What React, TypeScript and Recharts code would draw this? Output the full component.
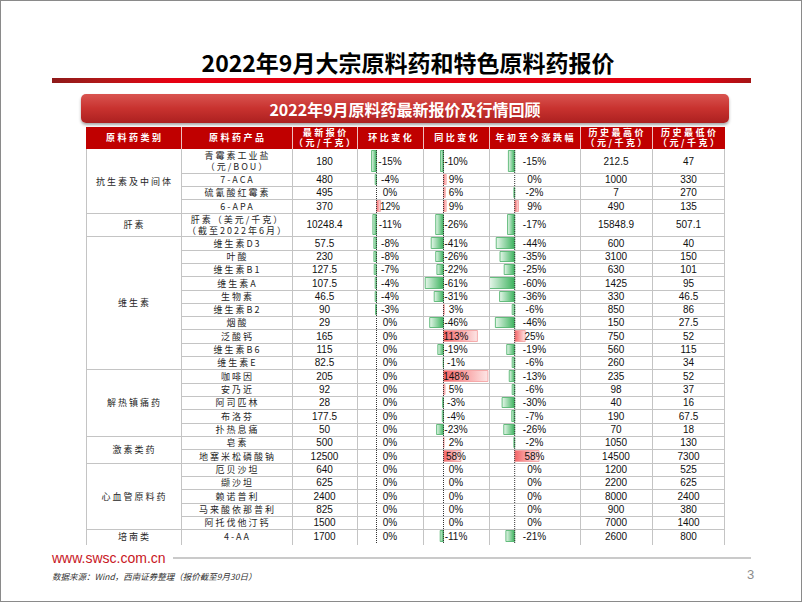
import React from 'react';
import { BarChart, Bar, XAxis, YAxis, ReferenceLine } from 'recharts';

// ---------------- data ----------------
const TITLE = '2022年9月大宗原料药和特色原料药报价';
const SUBTITLE = '2022年9月原料药最新报价及行情回顾';
const HEADERS = [
  '原料药类别',
  '原料药产品',
  '最新报价\n（元/千克）',
  '环比变化',
  '同比变化',
  '年初至今涨跌幅',
  '历史最高价\n（元/千克）',
  '历史最低价\n（元/千克）',
];
const GROUP_NAMES = ['抗生素及中间体', '肝素', '维生素', '解热镇痛药', '激素类药', '心血管原料药', '培南类'];
const GROUP_SIZES = [4, 1, 10, 5, 2, 5, 1];
const PRODUCTS = [
  '青霉素工业盐\n（元/BOU）', '7-ACA', '硫氰酸红霉素', '6-APA',
  '肝素（美元/千克）\n（截至2022年6月）',
  '维生素D3', '叶酸', '维生素B1', '维生素A', '生物素', '维生素B2', '烟酸', '泛酸钙', '维生素B6', '维生素E',
  '咖啡因', '安乃近', '阿司匹林', '布洛芬', '扑热息痛',
  '皂素', '地塞米松磷酸钠',
  '厄贝沙坦', '缬沙坦', '赖诺普利', '马来酸依那普利', '阿托伐他汀钙',
  '4-AA',
];
const LATEST = [180, 480, 495, 370, 10248.4, 57.5, 230, 127.5, 107.5, 46.5, 90, 29, 165, 115, 82.5, 205, 92, 28, 177.5, 50, 500, 12500, 640, 625, 2400, 825, 1500, 1700];
const MOM = [-15, -4, 0, 12, -11, -8, -8, -7, -4, -4, -3, 0, 0, 0, 0, 0, 0, 0, 0, 0, 0, 0, 0, 0, 0, 0, 0, 0];
const YOY = [-10, 9, 6, 9, -26, -41, -26, -22, -61, -31, 3, -46, 113, -19, -1, 148, 5, -3, -4, -23, 2, 58, 0, 0, 0, 0, 0, -11];
const YTD = [-15, 0, -2, 9, -17, -44, -35, -25, -60, -36, -6, -46, 25, -19, -6, -13, -6, -30, -7, -26, -2, 58, 0, 0, 0, 0, 0, -21];
const HIST_HIGH = [212.5, 1000, 7, 490, 15848.9, 600, 3100, 630, 1425, 330, 850, 150, 750, 560, 260, 235, 98, 40, 190, 70, 1050, 14500, 1200, 2200, 8000, 900, 7000, 2600];
const HIST_LOW = [47, 330, 270, 135, 507.1, 40, 150, 101, 95, 46.5, 86, 27.5, 52, 115, 34, 52, 37, 16, 67.5, 18, 130, 7300, 525, 625, 2400, 380, 1400, 800];
const FOOT_URL = 'www.swsc.com.cn';
const FOOT_SOURCE = '数据来源：Wind，西南证券整理（报价截至9月30日）';
const PAGE_NO = '3';

// ---------------- layout ----------------
const COL_X = [85, 180, 291, 356, 422, 488, 579, 651, 724];
const HEAD_TOP = 126;
const BODY_TOP = 148;
const SINGLE = 13.33;
const DOUBLE = 23.6;
const CJK = '"Noto Sans CJK SC", "Noto Sans", sans-serif';
const NUM = '"Liberation Sans", Arial, sans-serif';
const GRID = '#C4C4C4';

const BAR_COLS = [
  { col: 3, values: MOM, axis: 19.5, ppp: 0.33 },
  { col: 4, values: YOY, axis: 20.5, ppp: 0.3 },
  { col: 5, values: YTD, axis: 25.7, ppp: 0.42 },
];

function BarCell({ value, w, h, axis, ppp }: { value: number; w: number; h: number; axis: number; ppp: number }) {
  const data = [{ k: 'r', v: value }];
  const neg = value < 0;
  const domain: [number, number] = [-axis / ppp, (w - axis) / ppp];
  return (
    <BarChart
      width={w}
      height={h}
      data={data}
      layout="vertical"
      margin={{ top: 0, right: 0, bottom: 0, left: 0 }}
      barCategoryGap={1.5}
    >
      <XAxis type="number" domain={domain} hide allowDataOverflow />
      <YAxis type="category" dataKey="k" hide />
      {value !== 0 && (
        <Bar
          dataKey="v"
          isAnimationActive={false}
          fill={neg ? 'url(#gNeg)' : 'url(#gPos)'}
          stroke={neg ? '#45AE63' : '#F49A9B'}
          strokeWidth={0.8}
        />
      )}
      <ReferenceLine x={0} stroke="#333" strokeDasharray="1 1" strokeWidth={1} />
    </BarChart>
  );
}

export default function App() {
  const tops: number[] = [];
  let acc = BODY_TOP;
  PRODUCTS.forEach((p) => {
    tops.push(Math.round(acc));
    acc += p.includes('\n') ? DOUBLE : SINGLE;
  });
  const bodyBottom = Math.round(acc);
  const bottoms = tops.map((t, i) => (i < tops.length - 1 ? tops[i + 1] : bodyBottom));

  // group ranges
  const groups: { name: string; start: number; end: number }[] = [];
  let gi = 0;
  GROUP_NAMES.forEach((n, i) => {
    groups.push({ name: n, start: gi, end: gi + GROUP_SIZES[i] - 1 });
    gi += GROUP_SIZES[i];
  });
  const groupEnds = new Set(groups.map((g) => g.end));

  const cellBox = (c: number, top: number, bottom: number): React.CSSProperties => ({
    position: 'absolute',
    left: COL_X[c],
    width: COL_X[c + 1] - COL_X[c],
    top,
    height: bottom - top,
    display: 'flex',
    alignItems: 'center',
    justifyContent: 'center',
    textAlign: 'center',
  });

  const cjkText: React.CSSProperties = {
    fontFamily: CJK,
    fontSize: 9,
    letterSpacing: 2,
    paddingLeft: 2,
    color: '#262626',
    lineHeight: '11px',
    whiteSpace: 'pre',
  };
  const numText: React.CSSProperties = {
    fontFamily: NUM,
    fontSize: 10,
    color: '#111',
    lineHeight: '11px',
    whiteSpace: 'pre',
    position: 'relative',
  };

  const lines: React.ReactNode[] = [];
  // header separators
  for (let c = 1; c < 8; c++) {
    lines.push(
      <div key={'hs' + c} style={{ position: 'absolute', left: COL_X[c], top: HEAD_TOP, width: 1, height: BODY_TOP - HEAD_TOP, background: 'rgba(255,255,255,0.75)' }} />
    );
  }
  // vertical grid
  COL_X.forEach((x, c) => {
    lines.push(
      <div key={'v' + c} style={{ position: 'absolute', left: c === 8 ? x - 1 : x, top: BODY_TOP, width: 1, height: bodyBottom + 2 - BODY_TOP, background: GRID }} />
    );
  });
  // horizontal grid
  bottoms.forEach((b, i) => {
    if (i === bottoms.length - 1) return;
    const x0 = groupEnds.has(i) ? COL_X[0] : COL_X[1];
    lines.push(
      <div key={'h' + i} style={{ position: 'absolute', left: x0, top: b, width: COL_X[8] - x0, height: 1, background: GRID }} />
    );
  });

  return (
    <div
      style={{
        position: 'absolute',
        left: 0,
        top: 0,
        width: 802,
        height: 602,
        boxSizing: 'border-box',
        border: '1px solid #8a8a8a',
        background: '#fff',
        overflow: 'hidden',
      }}
    >
      <svg width={0} height={0} style={{ position: 'absolute' }}>
        <defs>
          <linearGradient id="gNeg" x1="0" y1="0" x2="1" y2="0">
            <stop offset="0" stopColor="#E6F6EA" />
            <stop offset="1" stopColor="#3BB25D" />
          </linearGradient>
          <linearGradient id="gPos" x1="0" y1="0" x2="1" y2="0">
            <stop offset="0" stopColor="#F46466" />
            <stop offset="1" stopColor="#FDE6E6" />
          </linearGradient>
        </defs>
      </svg>

      {/* title */}
      <div
        style={{
          position: 'absolute',
          left: 6,
          top: 45,
          width: 802,
          textAlign: 'center',
          fontFamily: CJK,
          fontWeight: 700,
          fontSize: 23,
          lineHeight: '32px',
          color: '#000',
        }}
      >
        {TITLE}
      </div>
      <div
        style={{
          position: 'absolute',
          left: 51,
          top: 77,
          width: 699,
          height: 5,
          background: 'linear-gradient(to right, #8E1A1A 0%, #B01818 7%, #E60012 17%, #E60012 92%, #A51515 100%)',
        }}
      />

      {/* subtitle bar */}
      <div
        style={{
          position: 'absolute',
          left: 80,
          top: 93,
          width: 648,
          height: 29,
          borderRadius: 5,
          background: 'linear-gradient(to bottom, #D95450 0%, #C8322F 50%, #AC2020 100%)',
          boxShadow: '0 2px 3px rgba(0,0,0,0.35)',
          display: 'flex',
          alignItems: 'center',
          justifyContent: 'center',
          color: '#fff',
          fontFamily: CJK,
          fontWeight: 700,
          fontSize: 16,
        }}
      >
        {SUBTITLE}
      </div>

      {/* header */}
      <div style={{ position: 'absolute', left: COL_X[0], top: HEAD_TOP, width: COL_X[8] - COL_X[0], height: BODY_TOP - HEAD_TOP, background: '#C00000' }} />
      {HEADERS.map((h, c) => (
        <div key={'hd' + c} style={cellBox(c, HEAD_TOP, BODY_TOP)}>
          <span style={{ fontFamily: CJK, fontSize: 9, fontWeight: 700, letterSpacing: 2.5, paddingLeft: 2.5, color: '#fff', lineHeight: '10px', whiteSpace: 'pre' }}>{h}</span>
        </div>
      ))}

      {/* bars */}
      {BAR_COLS.map((bc) =>
        bc.values.map((v, i) => (
          <div key={'b' + bc.col + '-' + i} style={{ position: 'absolute', left: COL_X[bc.col], top: tops[i], width: COL_X[bc.col + 1] - COL_X[bc.col], height: bottoms[i] - tops[i] }}>
            <BarCell value={v} w={COL_X[bc.col + 1] - COL_X[bc.col]} h={bottoms[i] - tops[i]} axis={bc.axis} ppp={bc.ppp} />
          </div>
        ))
      )}

      {lines}

      {/* group names */}
      {groups.map((g) => (
        <div key={'g' + g.name} style={cellBox(0, tops[g.start], bottoms[g.end])}>
          <span style={cjkText}>{g.name}</span>
        </div>
      ))}

      {/* rows */}
      {PRODUCTS.map((p, i) => (
        <React.Fragment key={'r' + i}>
          <div style={cellBox(1, tops[i], bottoms[i])}>
            <span style={cjkText}>{p}</span>
          </div>
          <div style={cellBox(2, tops[i], bottoms[i])}>
            <span style={numText}>{String(LATEST[i])}</span>
          </div>
          <div style={cellBox(3, tops[i], bottoms[i])}>
            <span style={numText}>{MOM[i] + '%'}</span>
          </div>
          <div style={cellBox(4, tops[i], bottoms[i])}>
            <span style={numText}>{YOY[i] + '%'}</span>
          </div>
          <div style={cellBox(5, tops[i], bottoms[i])}>
            <span style={numText}>{YTD[i] + '%'}</span>
          </div>
          <div style={cellBox(6, tops[i], bottoms[i])}>
            <span style={numText}>{String(HIST_HIGH[i])}</span>
          </div>
          <div style={cellBox(7, tops[i], bottoms[i])}>
            <span style={numText}>{String(HIST_LOW[i])}</span>
          </div>
        </React.Fragment>
      ))}

      {/* footer */}
      <div style={{ position: 'absolute', left: 51, top: 548, fontFamily: NUM, fontSize: 14, color: '#C8161E', lineHeight: '18px' }}>{FOOT_URL}</div>
      <div style={{ position: 'absolute', left: 172, top: 556, width: 578, height: 2, background: '#CACACA' }} />
      <div style={{ position: 'absolute', left: 51, top: 569, fontFamily: CJK, fontSize: 8.5, fontStyle: 'italic', color: '#333', lineHeight: '12px', whiteSpace: 'pre' }}>{FOOT_SOURCE}</div>
      <div style={{ position: 'absolute', left: 746, top: 566, fontFamily: NUM, fontSize: 13, color: '#8C8C8C', lineHeight: '16px' }}>{PAGE_NO}</div>
    </div>
  );
}
